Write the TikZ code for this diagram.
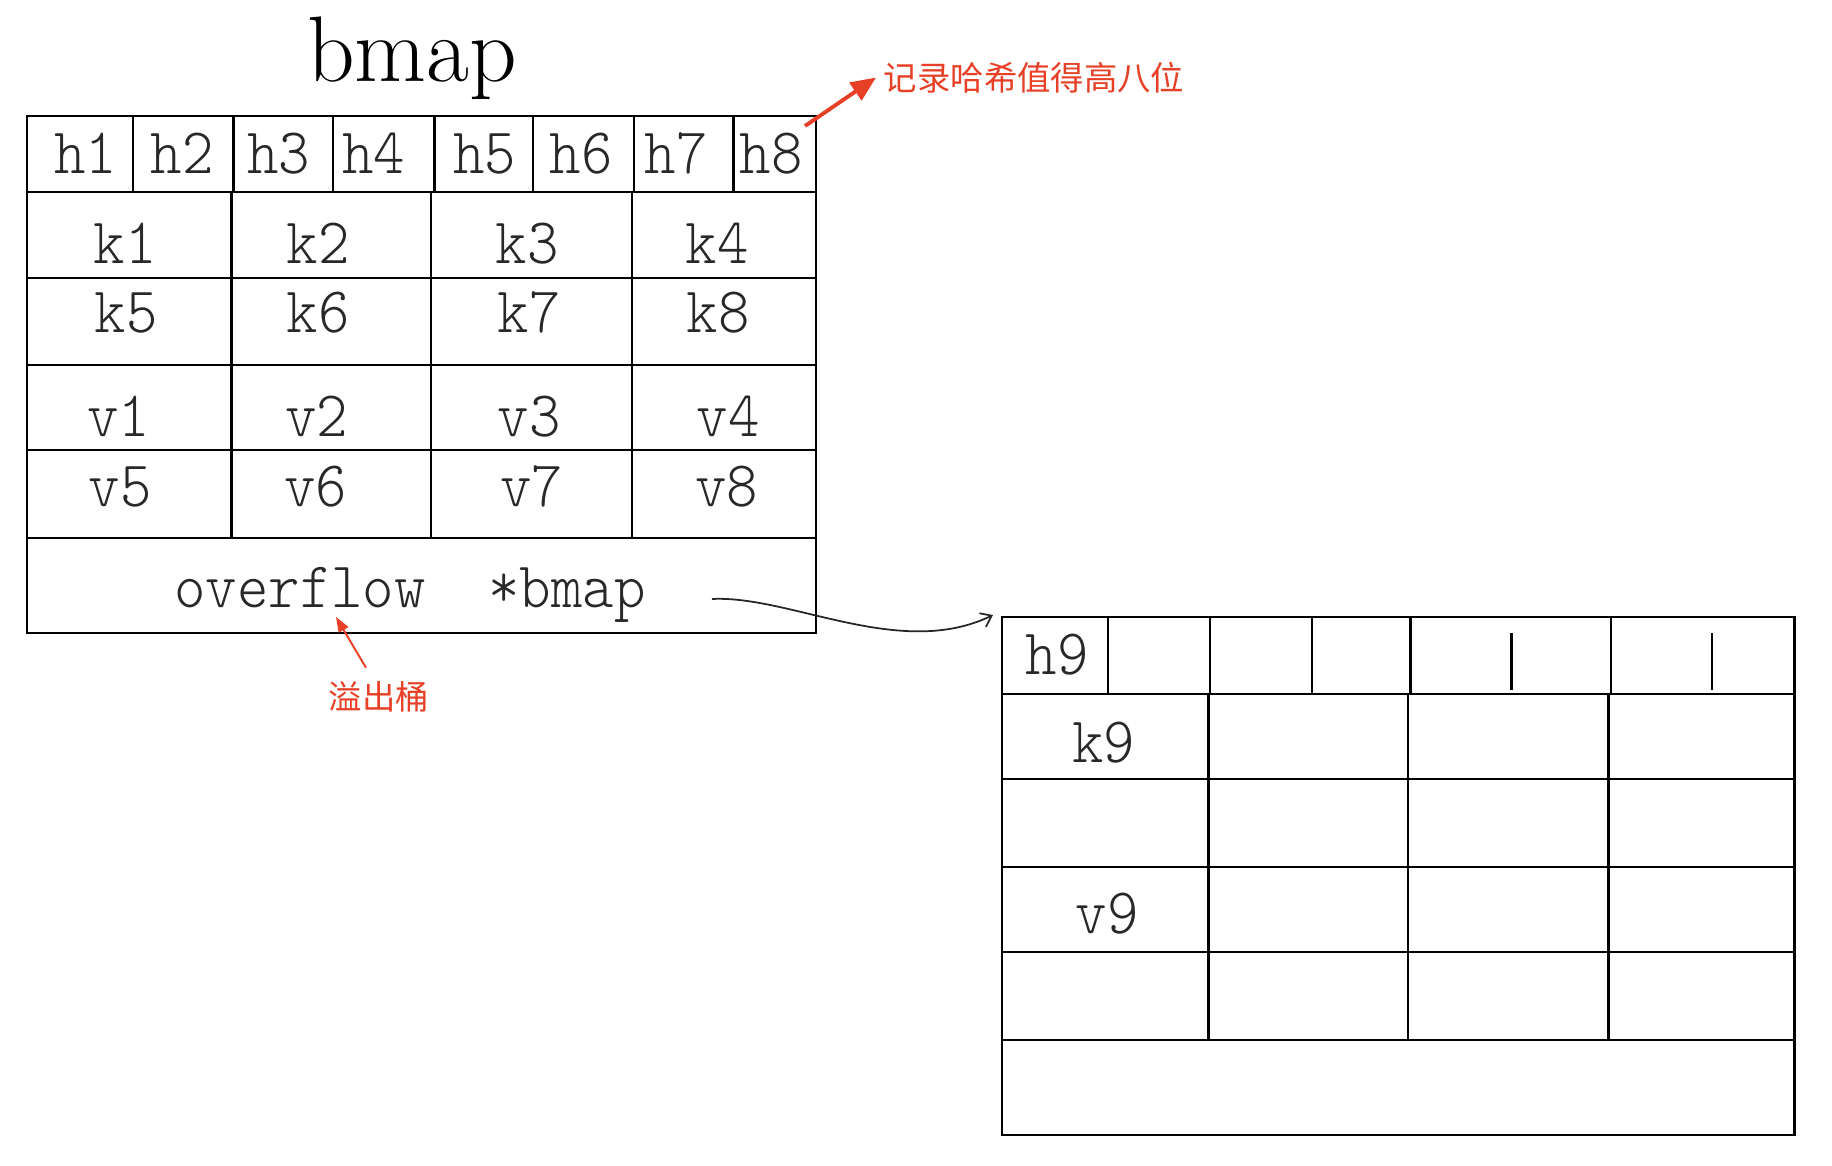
\documentclass[tikz,border=0pt]{standalone}
\usepackage{fontspec}
\usepackage{xcolor}
\usetikzlibrary{arrows.meta,positioning,calc}
\newfontfamily\cellfont[FakeStretch=0.92]{lmmonolt10-regular.otf}
\newfontfamily\cjk{Noto Sans CJK SC}
\definecolor{notered}{RGB}{231,64,38}
\definecolor{inkgrey}{RGB}{40,40,40}
\tikzset{
  gridline/.style={draw=black,line width=1.2pt},
  celltxt/.style={anchor=base,inner sep=0pt,text=inkgrey,
                  font=\cellfont\fontsize{37}{37}\selectfont},
  notetxt/.style={text=notered,inner sep=1.5mm,
                  font=\cjk\fontsize{19}{19}\selectfont},
  notearrow/.style={-{Triangle[length=5mm,width=4.2mm]},draw=notered,line width=2.2pt},
  notethin/.style={-{Triangle[length=3mm,width=2.2mm]},draw=notered,line width=1.1pt},
  ptrarrow/.style={-{Straight Barb[length=2mm,width=3mm]},draw=black!85,line width=1pt},
}

\begin{document}
\begin{tikzpicture}[x=.2mm,y=-.2mm]
  \path[fill=white] (0,0) rectangle (1832,1166);
  \useasboundingbox (0,0) rectangle (1832,1166);
  % --- title
  \node[anchor=base,inner sep=0pt,font=\fontsize{53}{53}\selectfont] (title) at (412,81) {bmap};
  % --- first bucket
  \draw[gridline] (27,116) rectangle (816,633);
  \foreach \y in {192,278,365,450,538}
    \draw[gridline] (27,\y) -- (816,\y);
  \foreach \x in {133,233.5,333,434.5,533,634,733.5}
    \draw[gridline] (\x,116) -- (\x,192);
  \foreach \x in {231.5,431,632}
    \draw[gridline] (\x,192) -- (\x,538);
  \foreach \n/\x in {1/85.6,2/182,3/278.5,4/373.5,5/484.5,6/581,7/676,8/771}
    \node[celltxt] (h\n) at (\x,173) {h\n};
  \foreach \n/\x in {1/125,2/318,3/527,4/717}
    \node[celltxt] (k\n) at (\x,263) {k\n};
  \foreach \n/\x in {5/126,6/318,7/529,8/718}
    \node[celltxt] (k\n) at (\x,332) {k\n};
  \foreach \n/\x in {1/118.5,2/316.5,3/529,4/728}
    \node[celltxt] (v\n) at (\x,436) {v\n};
  \foreach \n/\x in {5/120,6/315.5,7/531.5,8/726.5}
    \node[celltxt] (v\n) at (\x,506) {v\n};
  \node[celltxt] (ovf) at (410,607) {overflow\ \ *bmap};
  % --- overflow bucket
  \draw[gridline] (1002,617) rectangle (1794.5,1135);
  \foreach \y in {694,779,867,952,1040}
    \draw[gridline] (1002,\y) -- (1794.5,\y);
  \foreach \x in {1108,1210,1312,1410.5,1611}
    \draw[gridline] (\x,617) -- (\x,694);
  \foreach \x in {1511.5,1712}
    \draw[gridline] (\x,633) -- (\x,690);
  \foreach \x in {1208.5,1408,1608.5}
    \draw[gridline] (\x,694) -- (\x,1040);
  \node[celltxt] (h9) at (1057,674) {h9};
  \node[celltxt] (k9) at (1103.5,762) {k9};
  \node[celltxt] (v9) at (1107,933) {v9};
  % --- pointer to next bucket
  \coordinate (ovtail) at (712,599);
  \coordinate (nbhead) at (993,615);
  \draw[ptrarrow] (ovtail) .. controls (790,595) and (900,660) .. (nbhead);
  % --- notes
  \node[notetxt,anchor=west] (hint) at (876,77.5) {记录哈希值得高八位};
  \coordinate (hfoot) at (805,126);
  \draw[notearrow] (hfoot) -- (hint.west);
  \node[notetxt] (spill) at (379,697) {溢出桶};
  \coordinate (ovfoot) at (336,617);
  \draw[notethin] ($(spill.north)+(-13,-6)$) -- (ovfoot);
\end{tikzpicture}
\end{document}
